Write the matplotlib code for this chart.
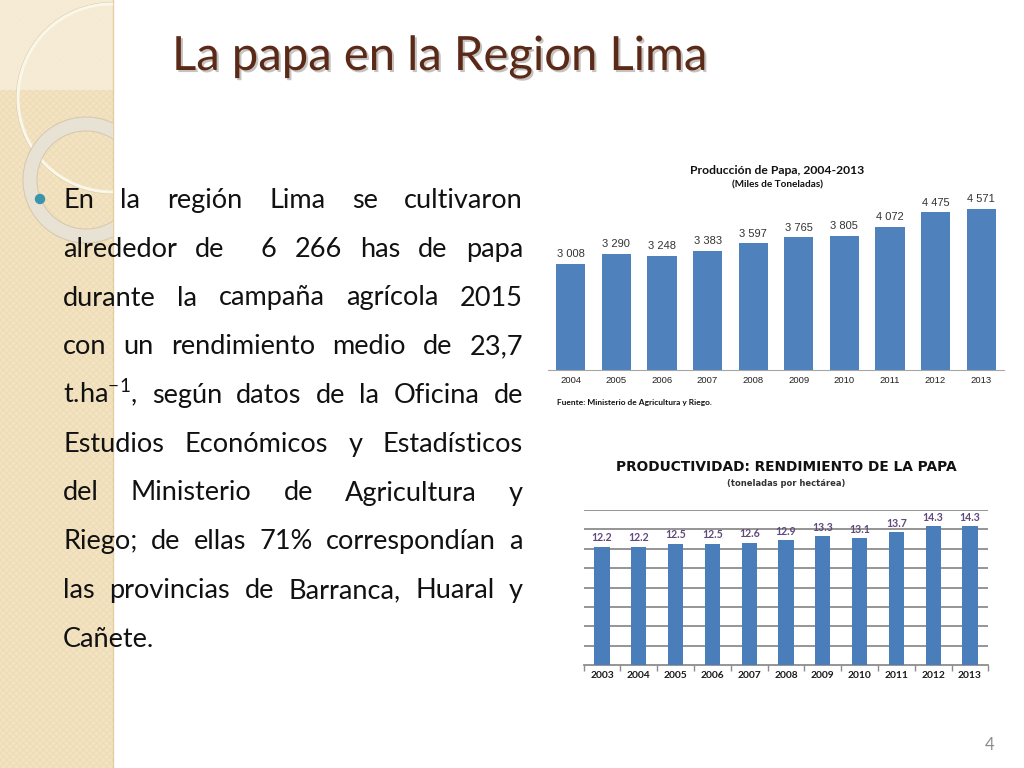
import matplotlib
matplotlib.use('Agg')
import matplotlib.pyplot as plt
from matplotlib.patches import Rectangle, Circle
import matplotlib.patheffects as pe
import numpy as np

plt.rcParams['font.family'] = ['Lato', 'DejaVu Sans']
plt.rcParams['mathtext.fontset'] = 'custom'
plt.rcParams['mathtext.rm'] = 'Lato'
plt.rcParams['mathtext.default'] = 'regular'
plt.rcParams['hatch.linewidth'] = 0.6

# datos de la diapositiva
titulo = 'La papa en la Region Lima'
lineas = [
    'En la región Lima se cultivaron',
    'alrededor de  6 266 has de papa',
    'durante la campaña agrícola 2015',
    'con un rendimiento medio de 23,7',
    't.ha$^{-1}$, según datos de la Oficina de',
    'Estudios Económicos y Estadísticos',
    'del Ministerio de Agricultura y',
    'Riego; de ellas 71% correspondían a',
    'las provincias de Barranca, Huaral y',
    'Cañete.',
]

# grafico 1 : produccion (miles de toneladas)
anios_prod = ['2004', '2005', '2006', '2007', '2008', '2009', '2010', '2011', '2012', '2013']
produccion = [3008, 3290, 3248, 3383, 3597, 3765, 3805, 4072, 4475, 4571]

# grafico 2 : rendimiento (t/ha)
anios_rend = ['2003', '2004', '2005', '2006', '2007', '2008', '2009', '2010', '2011', '2012', '2013']
rendimiento = [12.2, 12.2, 12.5, 12.5, 12.6, 12.9, 13.3, 13.1, 13.7, 14.3, 14.3]

W, H = 1024, 768
fig = plt.figure(figsize=(W / 100, H / 100), dpi=100)
fig.patch.set_facecolor('white')

# capa de fondo en pixeles
ax0 = fig.add_axes([0, 0, 1, 1])
ax0.set_xlim(0, W)
ax0.set_ylim(H, 0)
ax0.axis('off')

banda = Rectangle((0, 0), 113, H, facecolor='#F3E3C2', edgecolor='none', zorder=0)
ax0.add_patch(banda)
trama = Rectangle((0, 0), 113, H, facecolor='none', edgecolor='#EDDBB3', hatch='xxxxx', lw=0, zorder=0.5)
ax0.add_patch(trama)
claro = Rectangle((0, 0), 113, 90, facecolor='#F8EEDB', edgecolor='none', alpha=0.8, zorder=0.6)
ax0.add_patch(claro)
ax0.plot([113, 113], [0, H], color='#E3CFA2', lw=1, zorder=0.7)

c1 = Circle((112, 98), 94, fill=False, edgecolor='#FBF6EA', lw=2.2, zorder=1)
c1b = Circle((112, 98), 95.5, fill=False, edgecolor='#DCCBA4', lw=0.8, zorder=0.9)
c2 = Circle((86, 180), 56, fill=False, edgecolor='#E8E2D4', lw=9.5, zorder=1)
c2a = Circle((86, 180), 63, fill=False, edgecolor='#D6CBB2', lw=0.8, zorder=1.1)
c2b = Circle((86, 180), 49, fill=False, edgecolor='#D6CBB2', lw=0.8, zorder=1.1)
for c in [c1, c1b, c2, c2a, c2b]:
    ax0.add_patch(c)
    c.set_clip_path(banda)

# titulo
ax0.text(172, 70, titulo, fontsize=34, color='#5A2917', va='baseline', ha='left',
         path_effects=[pe.withSimplePatchShadow(offset=(1.5, -1.5), alpha=0.25)])

# viñeta
ax0.add_patch(Circle((40, 199), 4.5, color='#3B95AA', zorder=2))

# parrafo justificado
renderer = fig.canvas.get_renderer()
x_ini, x_fin = 63, 523
for i, linea in enumerate(lineas):
    y = 208 + i * 48.75
    palabras = linea.split(' ')
    arts = [ax0.text(0, y, p, fontsize=19.5, color='#111111', va='baseline', ha='left') for p in palabras]
    anchos = [a.get_window_extent(renderer).width if p else 0 for a, p in zip(arts, palabras)]
    if i == len(lineas) - 1 or len(palabras) == 1:
        gap = 7
    else:
        gap = (x_fin - x_ini - sum(anchos)) / (len(palabras) - 1)
    x = x_ini
    for a, w in zip(arts, anchos):
        a.set_x(x)
        x += w + gap

ax0.text(990, 745, '4', fontsize=12, color='#8C8C8C', ha='center', va='center')

# ---------------- grafico 1 ----------------
ax1 = fig.add_axes([548 / W, (H - 370) / H, 456 / W, 176 / H])
ax1.set_facecolor('none')
x1 = np.arange(len(anios_prod))
ax1.bar(x1, produccion, width=0.64, color='#4F81BD')
ax1.set_xlim(-0.5, len(x1) - 0.5)
ax1.set_ylim(0, 5000)
for s in ['top', 'right', 'left']:
    ax1.spines[s].set_visible(False)
ax1.spines['bottom'].set_color('#A6A6A6')
ax1.set_yticks([])
narrow = ['Liberation Sans Narrow', 'Liberation Sans']
ax1.set_xticks(x1, anios_prod, fontsize=6.8, family=narrow, color='#222222')
ax1.tick_params(axis='x', length=0, pad=4.5)
for xi, v in zip(x1, produccion):
    ax1.annotate(f'{v:,}'.replace(',', ' '), (xi, v), xytext=(0, 3.5), textcoords='offset points',
                 ha='center', va='bottom', fontsize=8, family=narrow, color='#333333')

ax0.text(777, 170, 'Producción de Papa, 2004-2013', fontsize=8.7, fontweight='bold',
         ha='center', va='center', color='#111111')
ax0.text(777, 185, '(Miles de Toneladas)', fontsize=7.2, fontweight='bold',
         ha='center', va='center', color='#111111')
ax0.text(557, 403, 'Fuente: Ministerio de Agricultura y Riego.', fontsize=6.0, fontweight='bold',
         ha='left', va='center', color='#111111')

# ---------------- grafico 2 ----------------
ax2 = fig.add_axes([583.6 / W, (H - 665) / H, 404.8 / W, 155 / H])
ax2.set_facecolor('none')
x2 = np.arange(len(anios_rend))
ax2.bar(x2, rendimiento, width=0.41, color='#4A7EBB', zorder=3)
ax2.set_xlim(-0.5, len(x2) - 0.5)
ax2.set_ylim(0, 16)
ax2.set_yticks(np.arange(2, 17, 2))
ax2.yaxis.grid(True, color='#8C8C8C', lw=1.3)
ax2.tick_params(axis='y', length=0, labelleft=False)
for s in ['top', 'right', 'left']:
    ax2.spines[s].set_visible(False)
ax2.spines['bottom'].set_color('#8C8C8C')
ax2.spines['bottom'].set_linewidth(1.3)
ax2.set_xticks(x2, anios_rend, fontsize=7.4, fontweight='bold', color='#1A1A1A')
ax2.set_xticks(np.arange(-0.5, len(x2), 1), minor=True)
ax2.tick_params(axis='x', which='major', length=0, pad=4)
ax2.tick_params(axis='x', which='minor', length=4, color='#8C8C8C', width=1)
for xi, v in zip(x2, rendimiento):
    ax2.annotate(f'{v:.1f}', (xi, v), xytext=(0, 2.5), textcoords='offset points',
                 ha='center', va='bottom', fontsize=7.6, fontweight='bold', color='#604A7B')

ax0.text(786, 467, 'PRODUCTIVIDAD: RENDIMIENTO DE LA PAPA', fontsize=9.9, fontweight='bold',
         family='DejaVu Sans', ha='center', va='center', color='#111111')
ax0.text(786, 483, '(toneladas por hectárea)', fontsize=6.0, fontweight='bold',
         family='DejaVu Sans', ha='center', va='center', color='#333333')

fig.savefig('out.png', dpi=100)
